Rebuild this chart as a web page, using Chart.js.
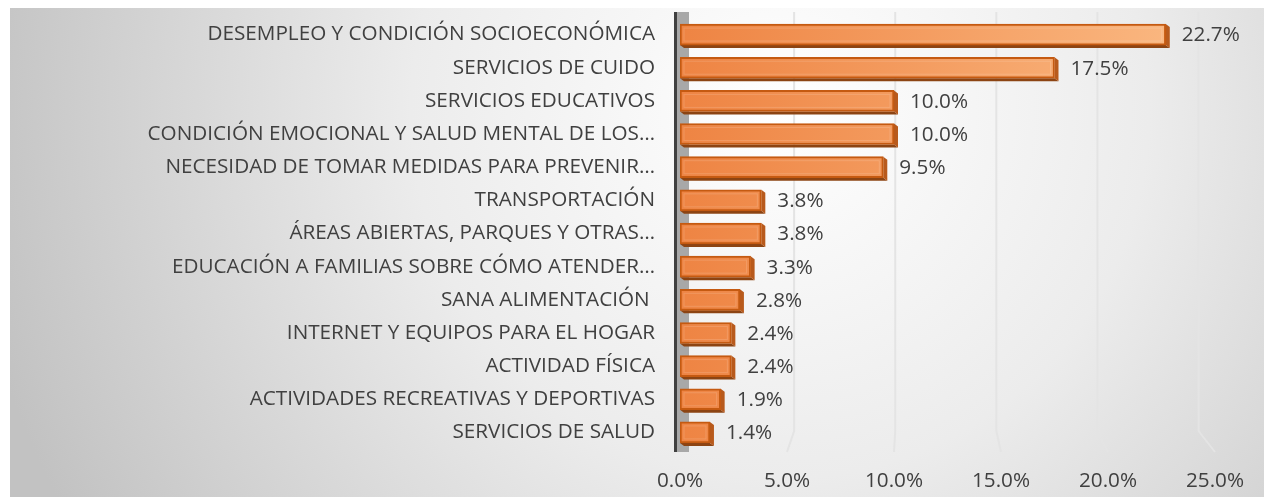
<!DOCTYPE html>
<html>
<head>
<meta charset="utf-8">
<script src="https://cdn.jsdelivr.net/npm/chart.js@4.4.1/dist/chart.umd.min.js"></script>
<style>
  html, body { margin: 0; padding: 0; background: #fff; }
  canvas { display: block; }
</style>
</head>
<body>
<canvas id="chart" width="1264" height="497"></canvas>
<script>
const categories = [
  "DESEMPLEO Y CONDICIÓN SOCIOECONÓMICA",
  "SERVICIOS DE CUIDO",
  "SERVICIOS EDUCATIVOS",
  "CONDICIÓN EMOCIONAL Y SALUD MENTAL DE LOS…",
  "NECESIDAD DE TOMAR MEDIDAS PARA PREVENIR…",
  "TRANSPORTACIÓN",
  "ÁREAS ABIERTAS, PARQUES Y OTRAS…",
  "EDUCACIÓN A FAMILIAS SOBRE CÓMO ATENDER…",
  "SANA ALIMENTACIÓN ",
  "INTERNET Y EQUIPOS PARA EL HOGAR",
  "ACTIVIDAD FÍSICA",
  "ACTIVIDADES RECREATIVAS Y DEPORTIVAS",
  "SERVICIOS DE SALUD"
];
const values = [22.7, 17.5, 10.0, 10.0, 9.5, 3.8, 3.8, 3.3, 2.8, 2.4, 2.4, 1.9, 1.4];
const xTicks = [0, 5, 10, 15, 20, 25];

const FONT = { family: "'Open Sans', sans-serif", size: 20.7 };
const TEXT = "#404040";

// gray backdrop + back wall + gridlines with a slanted foot
const backdrop = {
  id: "backdrop",
  beforeDraw(chart) {
    const { ctx } = chart;
    const xs = chart.scales.x, ys = chart.scales.y;
    const top = ys.top, bottom = ys.bottom;
    ctx.save();
    ctx.fillStyle = "#fff";
    ctx.fillRect(0, 0, chart.width, chart.height);
    const g = ctx.createRadialGradient(780, 110, 0, 780, 110, 820);
    g.addColorStop(0, "#ffffff");
    g.addColorStop(0.45, "#ececec");
    g.addColorStop(1, "#c2c2c2");
    ctx.fillStyle = g;
    ctx.fillRect(10, 8, chart.width - 10, chart.height - 8);

    const x0 = xs.getPixelForValue(0);
    ctx.lineWidth = 2;
    ctx.strokeStyle = "#e4e4e4";
    xTicks.slice(1).forEach(v => {
      const front = xs.getPixelForValue(v);
      const back = x0 + 13 + (front - x0) * 0.945;
      ctx.beginPath();
      ctx.moveTo(back, top - 6);
      ctx.lineTo(back, bottom - 18);
      ctx.lineTo(front, bottom + 3);
      ctx.stroke();
    });

    // side wall
    ctx.fillStyle = "#a8a8a8";
    ctx.fillRect(x0 - 3, top - 6, 12, bottom - top + 9);
    ctx.fillStyle = "#404040";
    ctx.fillRect(x0 - 6, top - 6, 3, bottom - top + 9);
    ctx.restore();
  },
  beforeDatasetsDraw(chart) {
    // depth faces of the bars
    const { ctx } = chart;
    const meta = chart.getDatasetMeta(0);
    ctx.save();
    meta.data.forEach(bar => {
      const { x, y, base, height } = bar.getProps(["x", "y", "base", "height"], true);
      const top = y - height / 2, bot = y + height / 2, d = 4;
      ctx.fillStyle = "#8c4413";
      ctx.beginPath();
      ctx.moveTo(base, bot);
      ctx.lineTo(x, bot);
      ctx.lineTo(x + d, bot + d - 1);
      ctx.lineTo(base + d, bot + d - 1);
      ctx.closePath();
      ctx.fill();
      ctx.fillStyle = "#b85a1c";
      ctx.beginPath();
      ctx.moveTo(x, top);
      ctx.lineTo(x + d, top + d - 1);
      ctx.lineTo(x + d, bot + d - 1);
      ctx.lineTo(x, bot);
      ctx.closePath();
      ctx.fill();
    });
    ctx.restore();
  },
  afterDatasetsDraw(chart) {
    const { ctx } = chart;
    const meta = chart.getDatasetMeta(0);
    ctx.save();
    ctx.font = `${FONT.size}px ${FONT.family}`;
    ctx.textAlign = "left";
    ctx.textBaseline = "middle";
    meta.data.forEach((bar, i) => {
      const { x, y, base, height } = bar.getProps(["x", "y", "base", "height"], true);
      // soft inner bevel
      ctx.strokeStyle = "rgba(255,255,255,0.15)";
      ctx.lineWidth = 1;
      ctx.strokeRect(base + 4, y - height / 2 + 4, x - base - 8, height - 8);
      ctx.fillStyle = TEXT;
      ctx.fillText(values[i].toFixed(1) + "%", x + 16, y + 1);
    });
    ctx.restore();
  }
};

const ctx = document.getElementById("chart").getContext("2d");

new Chart(ctx, {
  type: "bar",
  data: {
    labels: categories,
    datasets: [{
      data: values,
      barThickness: 21,
      backgroundColor: (c) => {
        const a = c.chart.chartArea;
        if (!a) return "#f08a4b";
        const g = c.chart.ctx.createLinearGradient(a.left, 0, a.right, 0);
        g.addColorStop(0, "#ee8443");
        g.addColorStop(1, "#fbbb85");
        return g;
      },
      borderColor: "#c55a11",
      borderWidth: 2,
      borderSkipped: false
    }]
  },
  options: {
    indexAxis: "y",
    responsive: false,
    animation: false,
    layout: { padding: { top: 18, right: 43, left: 0, bottom: 0 } },
    plugins: {
      legend: { display: false },
      tooltip: { enabled: false }
    },
    scales: {
      x: {
        min: 0,
        max: 25,
        afterBuildTicks: s => { s.ticks = xTicks.map(v => ({ value: v })); },
        afterFit: s => { s.height = 48; },
        grid: { display: false, drawTicks: false },
        border: { display: false },
        ticks: {
          padding: 20,
          color: TEXT,
          font: FONT,
          callback: v => Number(v).toFixed(1) + "%"
        }
      },
      y: {
        afterFit: s => { s.width = 680; s.paddingTop = 0; s.paddingBottom = 0; },
        grid: { display: false, drawTicks: false },
        border: { display: false },
        ticks: {
          padding: 25,
          color: TEXT,
          font: FONT,
          autoSkip: false
        }
      }
    }
  },
  plugins: [backdrop]
});
</script>
</body>
</html>
